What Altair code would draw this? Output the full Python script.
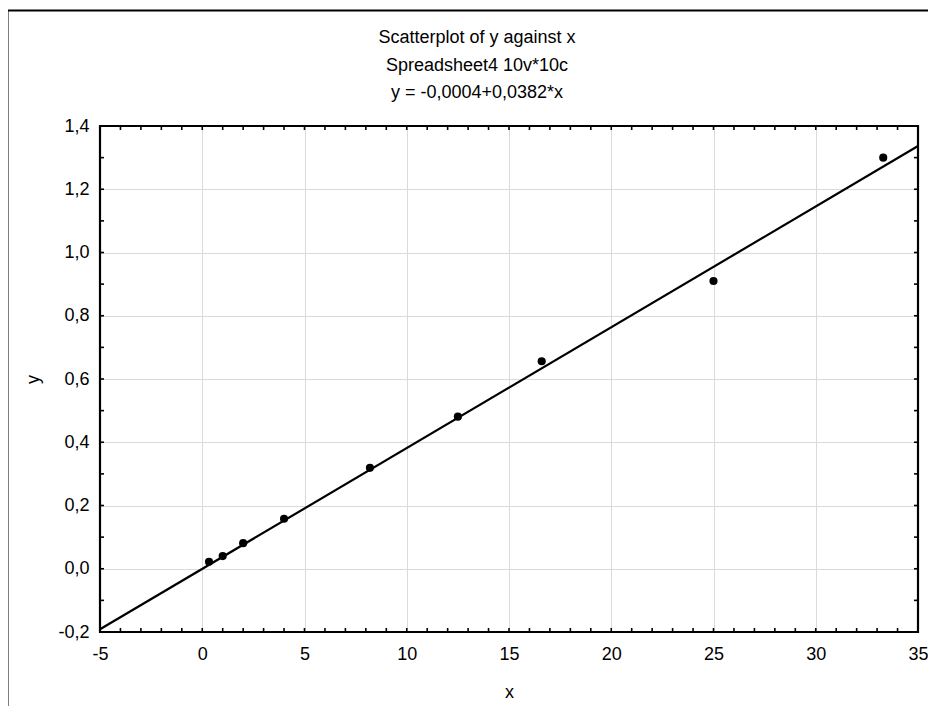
import altair as alt
import pandas as pd

# ---- data ----
x_vals = [0.33, 1.0, 2.0, 4.0, 8.2, 12.5, 16.6, 25.0, 33.3]
y_vals = [0.022, 0.040, 0.081, 0.158, 0.319, 0.481, 0.656, 0.910, 1.300]
intercept = -0.0004
slope = 0.0382

x_domain = [-5, 35]
y_domain = [-0.2, 1.4]
x_major = [-5, 0, 5, 10, 15, 20, 25, 30, 35]
y_major = [-0.2, 0.0, 0.2, 0.4, 0.6, 0.8, 1.0, 1.2, 1.4]
x_minor = list(range(-5, 36))
y_minor = [round(-0.2 + 0.1 * i, 1) for i in range(17)]
title_lines = ["Scatterplot of y against x", "Spreadsheet4 10v*10c", "y = -0,0004+0,0382*x"]

W, H = 818, 506
FONT = "Liberation Sans"
FS = 18

xs = alt.Scale(domain=x_domain, nice=False, zero=False)
ys = alt.Scale(domain=y_domain, nice=False, zero=False)

x_axis = alt.Axis(
    title="x", values=x_major, grid=True, gridColor="#dadada", gridWidth=1,
    ticks=False, domain=False, labelPadding=13, labelFontSize=FS, labelFont=FONT,
    labelColor="black", labelFlush=False,
    labelExpr="replace(format(datum.value, 'd'), '\u2212', '-')",
    titleFont=FONT, titleFontSize=FS, titleFontWeight="normal", titleColor="black",
    titlePadding=20,
)
y_axis = alt.Axis(
    title="y", values=y_major, grid=True, gridColor="#dadada", gridWidth=1,
    ticks=False, domain=False, labelPadding=11, labelFontSize=FS, labelFont=FONT,
    labelColor="black", labelFlush=False,
    labelExpr="replace(replace(format(datum.value, '.1f'), '.', ','), '\u2212', '-')",
    titleFont=FONT, titleFontSize=FS, titleFontWeight="normal", titleColor="black",
    titlePadding=15,
)

X = alt.X("x:Q", scale=xs, axis=x_axis)
Y = alt.Y("y:Q", scale=ys, axis=y_axis)

pts = pd.DataFrame({"x": x_vals, "y": y_vals})
line_df = pd.DataFrame({"x": x_domain})

points = alt.Chart(pts).mark_circle(color="black", opacity=1, size=66).encode(x=X, y=Y)

fit = (
    alt.Chart(line_df)
    .transform_calculate(y=f"{intercept} + {slope} * datum.x")
    .mark_line(color="black", strokeWidth=2.2)
    .encode(x=X, y=Y)
)

xt = pd.DataFrame({"x": x_minor})
yt = pd.DataFrame({"y": y_minor})
tick_style = dict(color="black", strokeWidth=1.6)
bottom_ticks = alt.Chart(xt).mark_rule(**tick_style).encode(x=X, y=alt.value(H), y2=alt.value(H - 4))
top_ticks = alt.Chart(xt).mark_rule(**tick_style).encode(x=X, y=alt.value(0), y2=alt.value(4))
left_ticks = alt.Chart(yt).mark_rule(**tick_style).encode(y=Y, x=alt.value(0), x2=alt.value(4))
right_ticks = alt.Chart(yt).mark_rule(**tick_style).encode(y=Y, x=alt.value(W), x2=alt.value(W - 4))

one = pd.DataFrame({"k": [0]})
frame = alt.Chart(one).mark_rect(filled=False, stroke="black", strokeWidth=2.2).encode(
    x=alt.value(0), x2=alt.value(W), y=alt.value(0), y2=alt.value(H)
)
outer = alt.Chart(one).mark_rect(filled=False, stroke="black", strokeWidth=2).encode(
    x=alt.value(-92.5), x2=alt.value(860), y=alt.value(-115.5), y2=alt.value(700)
)
title = alt.Chart(one).mark_text(
    text=title_lines, font=FONT, fontSize=FS, lineHeight=27.5, align="center",
    baseline="top", color="black",
).encode(x=alt.value(377), y=alt.value(-97))

chart = (
    alt.layer(outer, title, fit, points, bottom_ticks, top_ticks, left_ticks, right_ticks, frame)
    .properties(
        width=W, height=H,
        autosize=alt.AutoSizeParams(type="none"),
        padding={"left": 92, "top": 118, "right": 10, "bottom": 74},
    )
    .configure_view(stroke=None)
    .configure(background="white")
)

chart.save("out.html", embed_options={"renderer": "svg", "actions": False})
